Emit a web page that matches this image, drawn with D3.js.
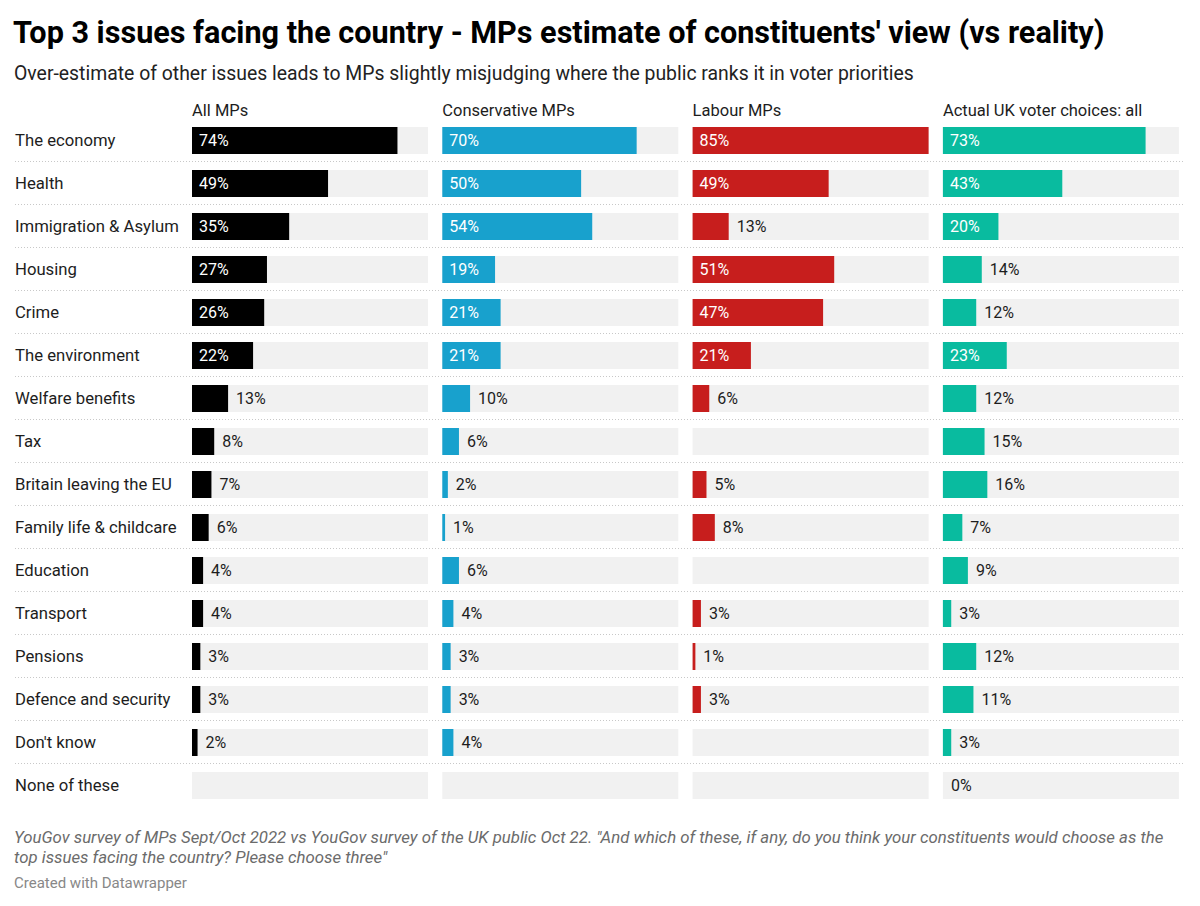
<!DOCTYPE html>
<html>
<head>
<meta charset="utf-8">
<script src="https://cdn.jsdelivr.net/npm/d3@7"></script>
<style>
  body { margin: 0; background: #fff; }
  svg text { font-family: Roboto, "Noto Sans", sans-serif; }
</style>
</head>
<body>
<div id="chart"></div>
<script>
// dades
let issues = ['The economy', 'Health', 'Immigration & Asylum', 'Housing', 'Crime', 'The environment',
  'Welfare benefits', 'Tax', 'Britain leaving the EU', 'Family life & childcare', 'Education',
  'Transport', 'Pensions', 'Defence and security', "Don't know", 'None of these']
let groups = ['All MPs', 'Conservative MPs', 'Labour MPs', 'Actual UK voter choices: all']
let allMPs = [74, 49, 35, 27, 26, 22, 13, 8, 7, 6, 4, 4, 3, 3, 2, null]
let conservativeMPs = [70, 50, 54, 19, 21, 21, 10, 6, 2, 1, 6, 4, 3, 3, 4, null]
let labourMPs = [85, 49, 13, 51, 47, 21, 6, null, 5, 8, null, 3, 1, 3, null, null]
let voters = [73, 43, 20, 14, 12, 23, 12, 15, 16, 7, 9, 3, 12, 11, 3, 0]
let series = [allMPs, conservativeMPs, labourMPs, voters]
let colors = ['#000000', '#18a1cd', '#c71e1d', '#09bb9f']

// mides
let ample = 1200
let alt = 906
let rowTop = 118
let rowH = 43
let barH = 27
let panelX0 = 192
let panelW = 236
let panelSep = 250.3

let svg = d3.select('#chart')
  .append('svg')
  .attr('width', ample)
  .attr('height', alt)

// títols
svg.append('text')
  .attr('x', 13).attr('y', 43)
  .attr('font-size', 30.6).attr('font-weight', 700).attr('fill', '#000')
  .text("Top 3 issues facing the country - MPs estimate of constituents' view (vs reality)")

svg.append('text')
  .attr('x', 14).attr('y', 80)
  .attr('font-size', 19.4).attr('fill', '#222')
  .text('Over-estimate of other issues leads to MPs slightly misjudging where the public ranks it in voter priorities')

let y = d3.scaleBand()
  .domain(issues)
  .range([rowTop, rowTop + rowH * issues.length])

let x = d3.scaleLinear().domain([0, 85]).range([0, panelW])

// separadors
svg.selectAll('line.sep')
  .data(issues.slice(0, -1))
  .enter()
  .append('line')
  .attr('class', 'sep')
  .attr('x1', 15).attr('x2', 1185)
  .attr('y1', d => y(d) + rowH + 0.5)
  .attr('y2', d => y(d) + rowH + 0.5)
  .attr('stroke', '#c8c8c8')
  .attr('stroke-dasharray', '1,2')

// etiquetes de files
svg.selectAll('text.row')
  .data(issues)
  .enter()
  .append('text')
  .attr('class', 'row')
  .attr('x', 15)
  .attr('y', d => y(d) + rowH / 2 + 1)
  .attr('dy', '0.35em')
  .attr('font-size', 16.7)
  .attr('fill', '#1d1d1d')
  .text(d => d)

groups.forEach((g, gi) => {
  let px = panelX0 + gi * panelSep
  let panel = svg.append('g').attr('transform', `translate(${px},0)`)

  panel.append('text')
    .attr('x', 0).attr('y', 115.5)
    .attr('font-size', 16.5).attr('fill', '#1d1d1d')
    .text(g)

  let dades = issues.map((d, i) => ({ issue: d, v: series[gi][i] }))

  panel.selectAll('rect.bg')
    .data(dades)
    .enter()
    .append('rect')
    .attr('class', 'bg')
    .attr('x', 0)
    .attr('y', d => y(d.issue) + (rowH - barH) / 2 + 1)
    .attr('width', panelW)
    .attr('height', barH)
    .attr('fill', '#f1f1f1')

  let valors = dades.filter(d => d.v !== null)

  panel.selectAll('rect.bar')
    .data(valors)
    .enter()
    .append('rect')
    .attr('class', 'bar')
    .attr('x', 0)
    .attr('y', d => y(d.issue) + (rowH - barH) / 2 + 1)
    .attr('width', d => x(d.v))
    .attr('height', barH)
    .attr('fill', colors[gi])

  panel.selectAll('text.val')
    .data(valors)
    .enter()
    .append('text')
    .attr('class', 'val')
    .attr('x', d => d.v >= 18 ? 7 : x(d.v) + 8)
    .attr('y', d => y(d.issue) + rowH / 2 + 1)
    .attr('dy', '0.35em')
    .attr('font-size', 16)
    .attr('fill', d => d.v >= 18 ? '#fff' : '#1d1d1d')
    .text(d => d.v + '%')
})

// peu
let peu = svg.append('g')
peu.append('text')
  .attr('x', 14).attr('y', 843)
  .attr('font-size', 16.8).attr('font-style', 'italic').attr('fill', '#6b6b6b')
  .text('YouGov survey of MPs Sept/Oct 2022 vs YouGov survey of the UK public Oct 22. "And which of these, if any, do you think your constituents would choose as the')
peu.append('text')
  .attr('x', 14).attr('y', 863)
  .attr('font-size', 16.8).attr('font-style', 'italic').attr('fill', '#6b6b6b')
  .text('top issues facing the country? Please choose three"')
peu.append('text')
  .attr('x', 14).attr('y', 888)
  .attr('font-size', 15).attr('fill', '#888')
  .text('Created with Datawrapper')
</script>
</body>
</html>
